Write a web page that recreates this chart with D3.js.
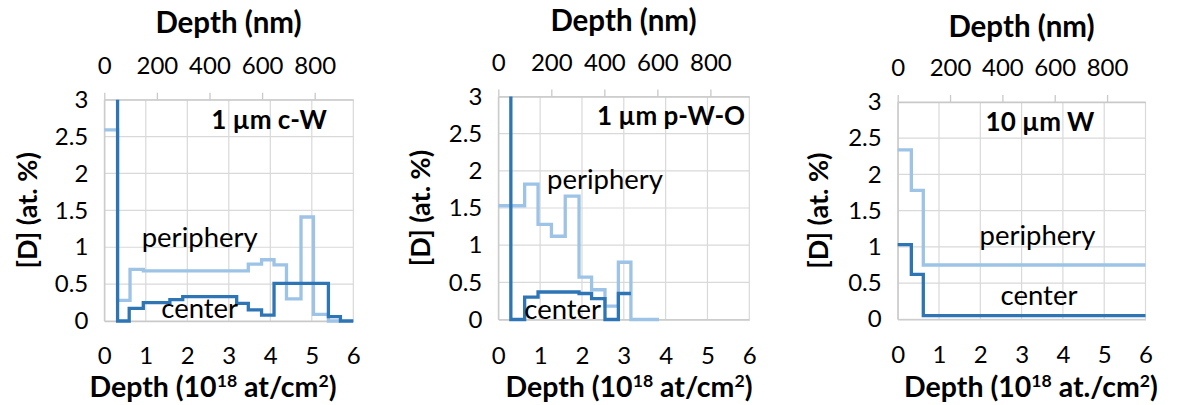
<!DOCTYPE html>
<html><head><meta charset="utf-8">
<script src="https://cdn.jsdelivr.net/npm/d3@7"></script>
<style>
body{margin:0;background:#fff}
svg{display:block}
text{font-family:Lato,'Open Sans',sans-serif;fill:#000}
</style>
</head><body>
<svg id="c" width="1179" height="405"></svg>
<script>
// ---- data ----
const depthTicks = [0, 1, 2, 3, 4, 5, 6];
const nmTicks = [0, 200, 400, 600, 800];
const concTicks = [0, 0.5, 1, 1.5, 2, 2.5, 3];
const depthMax = 6;
const nmPerUnit = 157.8;   // nm per 10^18 at/cm2
const concMax = 3;

const panelTitles = ["1 µm c-W", "1 µm p-W-O", "10 µm W"];
const xUnitText = ["at/cm", "at/cm", "at./cm"];

// 1 µm c-W
const cwCenterX = [0, 0.32, 0.60, 0.94, 1.58, 1.89, 3.19, 3.47, 3.79, 4.09, 5.40, 5.69, 6.00];
const cwCenterY = [4.00, 0.00, 0.17, 0.25, 0.29, 0.33, 0.24, 0.15, 0.08, 0.51, 0.06, 0.00, 0.00];
const cwPeriphX = [0, 0.32, 0.62, 0.94, 3.47, 3.79, 4.09, 4.39, 4.74, 5.04, 5.40, 5.69];
const cwPeriphY = [2.59, 0.28, 0.70, 0.68, 0.77, 0.83, 0.76, 0.30, 1.41, 0.09, 0.00, 0.00];

// 1 µm p-W-O
const pwCenterX = [0, 0.30, 0.63, 0.95, 1.93, 2.23, 2.55, 2.87, 3.17];
const pwCenterY = [4.00, 0.00, 0.30, 0.37, 0.35, 0.28, 0.00, 0.35, 0.35];
const pwPeriphX = [0, 0.63, 0.95, 1.27, 1.60, 1.93, 2.23, 2.55, 2.87, 3.17, 3.84];
const pwPeriphY = [1.53, 1.82, 1.28, 1.12, 1.66, 0.57, 0.40, 0.18, 0.77, 0.00, 0.00];

// 10 µm W
const wCenterX = [0, 0.33, 0.62, 6.00];
const wCenterY = [1.03, 0.62, 0.05, 0.05];
const wPeriphX = [0, 0.33, 0.62, 6.00];
const wPeriphY = [2.34, 1.78, 0.75, 0.75];

const seriesNames = ["periphery", "center"];

// ---- layout ----
const colCenter = "#2E75B6", colPeriph = "#9DC3E6";
const panels = [
  {frame:{l:104.3, r:353.3, t:99.7, b:321},
   center:[cwCenterX, cwCenterY], periph:[cwPeriphX, cwPeriphY],
   titlePos:[269, 128.5], perPos:[199.7, 246.5], cenPos:[199.7, 317.5],
   topTitle:[228.5, 33], yTitleX:28, botTitle:[213, 397]},
  {frame:{l:498.3, r:749.3, t:96.5, b:319.5},
   center:[pwCenterX, pwCenterY], periph:[pwPeriphX, pwPeriphY],
   titlePos:[671, 125], perPos:[605, 188.5], cenPos:[562.7, 318.5],
   topTitle:[623.5, 31], yTitleX:421, botTitle:[629, 397]},
  {frame:{l:897.7, r:1145.5, t:102, b:319.3},
   center:[wCenterX, wCenterY], periph:[wPeriphX, wPeriphY],
   titlePos:[1040, 130.5], perPos:[1037.5, 245], cenPos:[1039, 305],
   topTitle:[1021.5, 37], yTitleX:819, botTitle:[1031, 397]}
];

const svg = d3.select("#c");
const tickFont = 24, titleFont = 29.5, botTitleFont = 28.5, yTitleFont = 27, labelFont = 27.5, panelTitleFont = 26;
const tickBaseline = 363.5;

panels.forEach((p, i) => {
  const f = p.frame;
  const x = d3.scaleLinear().domain([0, depthMax]).range([f.l, f.r]);
  const xNm = d3.scaleLinear().domain([0, depthMax * nmPerUnit]).range([f.l, f.r]);
  const y = d3.scaleLinear().domain([0, concMax]).range([f.b, f.t]);
  const g = svg.append("g");

  // grid
  g.append("g").selectAll("line").data(depthTicks).join("line")
    .attr("x1", d => x(d)).attr("x2", d => x(d)).attr("y1", f.t).attr("y2", f.b)
    .attr("stroke", "#d9d9d9").attr("stroke-width", 1.2);
  g.append("g").selectAll("line").data(concTicks).join("line")
    .attr("x1", f.l).attr("x2", f.r).attr("y1", d => y(d)).attr("y2", d => y(d))
    .attr("stroke", "#d9d9d9").attr("stroke-width", 1.2);

  // axes
  const top = g.append("g").attr("transform", `translate(0,${f.t})`)
    .call(d3.axisTop(xNm).tickValues(nmTicks).tickSize(7).tickSizeOuter(0).tickPadding(19));
  const bot = g.append("g").attr("transform", `translate(0,${f.b})`)
    .call(d3.axisBottom(x).tickValues(depthTicks).tickSize(0).tickFormat(d3.format("d")));
  const left = g.append("g").attr("transform", `translate(${f.l},0)`)
    .call(d3.axisLeft(y).tickValues(concTicks).tickSize(0).tickPadding(16).tickFormat(d3.format("")));
  bot.selectAll(".tick text").attr("y", tickBaseline - f.b).attr("dy", 0);
  [top, bot, left].forEach(a => {
    a.select(".domain").attr("stroke", "#c9c9c9").attr("stroke-width", 1.3);
    a.selectAll(".tick line").attr("stroke", "#c9c9c9").attr("stroke-width", 1.3);
    a.selectAll("text").attr("font-size", tickFont).attr("fill", "#000")
      .style("font-family", "Lato, 'Open Sans', sans-serif");
  });

  // lines
  const clipId = "clip" + i;
  svg.append("clipPath").attr("id", clipId).append("rect")
    .attr("x", f.l - 4).attr("y", f.t).attr("width", f.r - f.l + 8).attr("height", f.b - f.t + 4);
  const line = d3.line().x(d => x(d[0])).y(d => y(d[1])).curve(d3.curveStepAfter);
  const pts = s => s[0].map((v, k) => [v, s[1][k]]);
  const lg = g.append("g").attr("clip-path", `url(#${clipId})`);
  lg.append("path").attr("d", line(pts(p.periph))).attr("fill", "none")
    .attr("stroke", colPeriph).attr("stroke-width", 3.3).attr("stroke-linejoin", "miter");
  lg.append("path").attr("d", line(pts(p.center))).attr("fill", "none")
    .attr("stroke", colCenter).attr("stroke-width", 3.3).attr("stroke-linejoin", "miter");

  // labels
  g.append("text").attr("x", p.titlePos[0]).attr("y", p.titlePos[1]).attr("text-anchor", "middle")
    .attr("font-weight", "bold").attr("font-size", panelTitleFont).text(panelTitles[i]);
  g.append("text").attr("x", p.perPos[0]).attr("y", p.perPos[1]).attr("text-anchor", "middle")
    .attr("font-size", labelFont).text(seriesNames[0]);
  g.append("text").attr("x", p.cenPos[0]).attr("y", p.cenPos[1]).attr("text-anchor", "middle")
    .attr("font-size", labelFont).text(seriesNames[1]);

  // axis titles
  g.append("text").attr("x", p.topTitle[0]).attr("y", p.topTitle[1]).attr("text-anchor", "middle")
    .attr("font-weight", "bold").attr("font-size", titleFont).text("Depth (nm)");
  g.append("text").attr("transform", `translate(${p.yTitleX},${(f.t + f.b) / 2}) rotate(-90)`)
    .attr("text-anchor", "middle").attr("dy", "0.35em")
    .attr("font-weight", "bold").attr("font-size", yTitleFont).text("[D] (at. %)");
  const bt = g.append("text").attr("x", p.botTitle[0]).attr("y", p.botTitle[1]).attr("text-anchor", "middle")
    .attr("font-weight", "bold").attr("font-size", botTitleFont);
  const sup = botTitleFont * 0.62;
  bt.append("tspan").text("Depth (10");
  bt.append("tspan").attr("font-size", sup).attr("dy", -10).text("18");
  bt.append("tspan").attr("dy", 10).text(" " + xUnitText[i]);
  bt.append("tspan").attr("font-size", sup).attr("dy", -10).text("2");
  bt.append("tspan").attr("dy", 10).text(")");
});
</script>
</body></html>
